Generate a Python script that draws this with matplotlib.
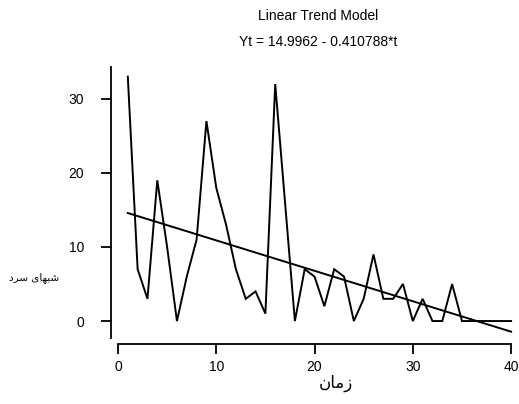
import matplotlib
matplotlib.use("Agg")
import matplotlib.pyplot as plt
import numpy as np

# Data
t = list(range(1, 41))
cold_nights = [33, 7, 3, 19, 10, 0, 6, 11, 27, 18,
               13, 7, 3, 4, 1, 32, 16, 0, 7, 6,
               2, 7, 6, 0, 3, 9, 3, 3, 5, 0,
               3, 0, 0, 5, 0, 0, 0, 0, 0, 0]
intercept = 14.9962
slope = -0.410788
xticks = [0, 10, 20, 30, 40]
yticks = [0, 10, 20, 30]
title1 = "Linear Trend Model"
title2 = "Yt = 14.9962 - 0.410788*t"
# Persian labels written as shaped presentation forms (visual order)
ylabel = "\uFEA9\uFEAE\uFEB3 \uFBFC\uFE8E\uFEEC\uFE92\uFEB7"   # شبهای سرد
xlabel = "\uFEE5\uFE8E\uFEE3\uFEAF"                          # زمان

trend = [intercept + slope * ti for ti in t]

fig = plt.figure(figsize=(5.19, 4.04), dpi=100)
ax = fig.add_axes([111/519, (404-344)/404, 405/519, (344-67)/404])

ax.plot(t, cold_nights, color="black", lw=1.4, solid_joinstyle="miter")
ax.plot(t, trend, color="black", lw=1.4)

ax.set_xlim(-0.71, 40.5)
ax.set_ylim(-3.1, 34.3)
ax.set_xticks(xticks)
ax.set_yticks(yticks)

for s in ["top", "right"]:
    ax.spines[s].set_visible(False)
ax.spines["left"].set_bounds(-2.3, 34.3)
ax.spines["bottom"].set_bounds(0, 40)
for s in ["left", "bottom"]:
    ax.spines[s].set_linewidth(1.3)

ax.tick_params(axis="y", direction="out", length=7.5, width=1.3, pad=12,
               labelsize=10)
ax.tick_params(axis="x", direction="out", length=7.5, width=1.3, pad=4,
               labelsize=10)
for lab in ax.get_xticklabels() + ax.get_yticklabels():
    lab.set_fontfamily("Liberation Sans")

fig.text(318/519, 1-16/404, title1, ha="center", va="center",
         fontsize=10, family="Liberation Sans")
fig.text(318/519, 1-42/404, title2, ha="center", va="center",
         fontsize=10, family="Liberation Sans")

fig.text(34/519, 1-278/404, ylabel, ha="center", va="center",
         fontsize=7.5, family=["DejaVu Sans"])
fig.text(336/519, 1-383/404, xlabel, ha="center", va="center",
         fontsize=12, family=["DejaVu Sans"])

fig.savefig("out.png", dpi=100)
